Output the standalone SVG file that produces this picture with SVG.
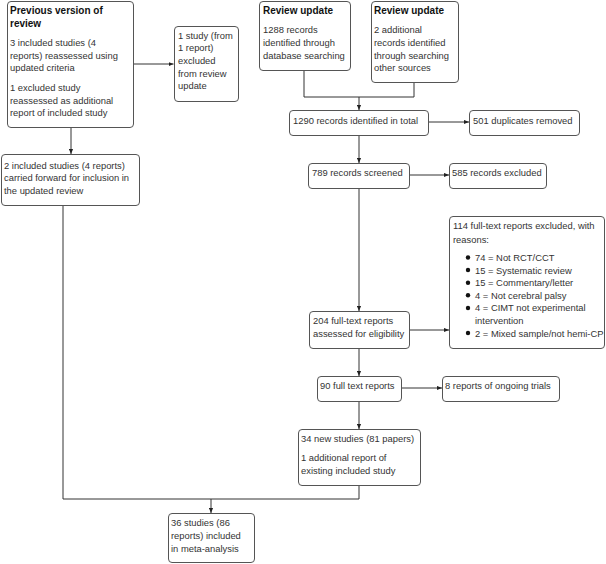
<svg xmlns="http://www.w3.org/2000/svg" width="606" height="564" viewBox="0 0 606 564">
<defs>
<style>
.box{fill:#fff;stroke:#555;stroke-width:1}
.t{font-family:"Liberation Sans",Arial,sans-serif;font-size:9.4px;fill:#333}
.b{font-family:"Liberation Sans",Arial,sans-serif;font-size:10px;font-weight:bold;fill:#111}
.c{fill:none;stroke:#333;stroke-width:1}
</style>
<marker id="ah" viewBox="0 0 6 6" refX="6" refY="3" markerWidth="5" markerHeight="5" orient="auto" markerUnits="userSpaceOnUse">
<path d="M0,0.5 L6,3 L0,5.5 Z" fill="#222"/>
</marker>
</defs>
<rect width="606" height="564" fill="#fff"/>
<g id="connectors">
<path class="c" d="M133.5,64 H173.5" marker-end="url(#ah)"/>
<path class="c" d="M71,127.5 V154" marker-end="url(#ah)"/>
<path class="c" d="M304,70.5 V97 H414 V82.5"/>
<path class="c" d="M359,97 V110" marker-end="url(#ah)"/>
<path class="c" d="M428.5,122 H469" marker-end="url(#ah)"/>
<path class="c" d="M359,135.5 V163" marker-end="url(#ah)"/>
<path class="c" d="M409.5,175 H449" marker-end="url(#ah)"/>
<path class="c" d="M359,188.5 V311" marker-end="url(#ah)"/>
<path class="c" d="M409.5,330 H449" marker-end="url(#ah)"/>
<path class="c" d="M359,348.5 V376" marker-end="url(#ah)"/>
<path class="c" d="M401.5,388 H442" marker-end="url(#ah)"/>
<path class="c" d="M359,401.5 V429" marker-end="url(#ah)"/>
<path class="c" d="M63,205.5 V499 H359 V485.5"/>
<path class="c" d="M211,499 V513" marker-end="url(#ah)"/>
</g>
<g id="prev">
<rect class="box" x="7.5" y="1.5" width="126" height="126" rx="3.5"/>
<text class="b" x="10" y="14">Previous version of</text>
<text class="b" x="10" y="27">review</text>
<text class="t" x="10" y="46">3 included studies (4</text>
<text class="t" x="10" y="58.5">reports) reassessed using</text>
<text class="t" x="10" y="71">updated criteria</text>
<text class="t" x="10" y="91">1 excluded study</text>
<text class="t" x="10" y="103.5">reassessed as additional</text>
<text class="t" x="10" y="116">report of included study</text>
</g>
<g id="excl1">
<rect class="box" x="174.5" y="26.5" width="64" height="75" rx="3.5"/>
<text class="t" x="178" y="38.5">1 study (from</text>
<text class="t" x="178" y="51.2">1 report)</text>
<text class="t" x="178" y="63.9">excluded</text>
<text class="t" x="178" y="76.6">from review</text>
<text class="t" x="178" y="89.3">update</text>
</g>
<g id="carried">
<rect class="box" x="1.5" y="154.5" width="138" height="51" rx="3.5"/>
<text class="t" x="4" y="168.5">2 included studies (4 reports)</text>
<text class="t" x="4" y="181">carried forward for inclusion in</text>
<text class="t" x="4" y="193.5">the updated review</text>
</g>
<g id="ru1">
<rect class="box" x="259.5" y="1.5" width="91" height="69" rx="3.5"/>
<text class="b" x="263" y="13.5">Review update</text>
<text class="t" x="263" y="33">1288 records</text>
<text class="t" x="263" y="45.8">identified through</text>
<text class="t" x="263" y="58.5">database searching</text>
</g>
<g id="ru2">
<rect class="box" x="371.5" y="1.5" width="87" height="81" rx="3.5"/>
<text class="b" x="374" y="13.5">Review update</text>
<text class="t" x="374" y="33">2 additional</text>
<text class="t" x="374" y="45.8">records identified</text>
<text class="t" x="374" y="58.5">through searching</text>
<text class="t" x="374" y="71">other sources</text>
</g>
<g id="total">
<rect class="box" x="289.5" y="110.5" width="139" height="25" rx="3.5"/>
<text class="t" x="293" y="123.5">1290 records identified in total</text>
</g>
<g id="dup">
<rect class="box" x="469.5" y="110.5" width="110" height="25" rx="3.5"/>
<text class="t" x="473" y="123.5">501 duplicates removed</text>
</g>
<g id="screened">
<rect class="box" x="308.5" y="163.5" width="101" height="25" rx="3.5"/>
<text class="t" x="312" y="176">789 records screened</text>
</g>
<g id="excl585">
<rect class="box" x="449.5" y="163.5" width="97" height="25" rx="3.5"/>
<text class="t" x="452" y="176">585 records excluded</text>
</g>
<g id="fulltext">
<rect class="box" x="309.5" y="311.5" width="100" height="37" rx="3.5"/>
<text class="t" x="313" y="324">204 full-text reports</text>
<text class="t" x="313" y="337">assessed for eligibility</text>
</g>
<g id="excl114">
<rect class="box" x="449.5" y="216.5" width="155" height="132" rx="3.5"/>
<text class="t" x="453" y="228.5">114 full-text reports excluded, with</text>
<text class="t" x="453" y="243">reasons:</text>
<circle cx="468" cy="257.5" r="2.2" fill="#111"/>
<circle cx="468" cy="270" r="2.2" fill="#111"/>
<circle cx="468" cy="282.7" r="2.2" fill="#111"/>
<circle cx="468" cy="295.3" r="2.2" fill="#111"/>
<circle cx="468" cy="308" r="2.2" fill="#111"/>
<circle cx="468" cy="333" r="2.2" fill="#111"/>
<text class="t" x="475" y="261">74 = Not RCT/CCT</text>
<text class="t" x="475" y="273.5">15 = Systematic review</text>
<text class="t" x="475" y="286">15 = Commentary/letter</text>
<text class="t" x="475" y="298.7">4 = Not cerebral palsy</text>
<text class="t" x="475" y="311.3">4 = CIMT not experimental</text>
<text class="t" x="475" y="324">intervention</text>
<text class="t" x="475" y="336.5">2 = Mixed sample/not hemi-CP</text>
</g>
<g id="ft90">
<rect class="box" x="317.5" y="376.5" width="84" height="25" rx="3.5"/>
<text class="t" x="320" y="389">90 full text reports</text>
</g>
<g id="ongoing">
<rect class="box" x="442.5" y="376.5" width="117" height="25" rx="3.5"/>
<text class="t" x="445" y="389">8 reports of ongoing trials</text>
</g>
<g id="new34">
<rect class="box" x="298.5" y="429.5" width="122" height="56" rx="3.5"/>
<text class="t" x="301" y="442">34 new studies (81 papers)</text>
<text class="t" x="301" y="461">1 additional report of</text>
<text class="t" x="301" y="474">existing included study</text>
</g>
<g id="final">
<rect class="box" x="168.5" y="513.5" width="86" height="49" rx="3.5"/>
<text class="t" x="171" y="526">36 studies (86</text>
<text class="t" x="171" y="539">reports) included</text>
<text class="t" x="171" y="552">in meta-analysis</text>
</g>
</svg>
